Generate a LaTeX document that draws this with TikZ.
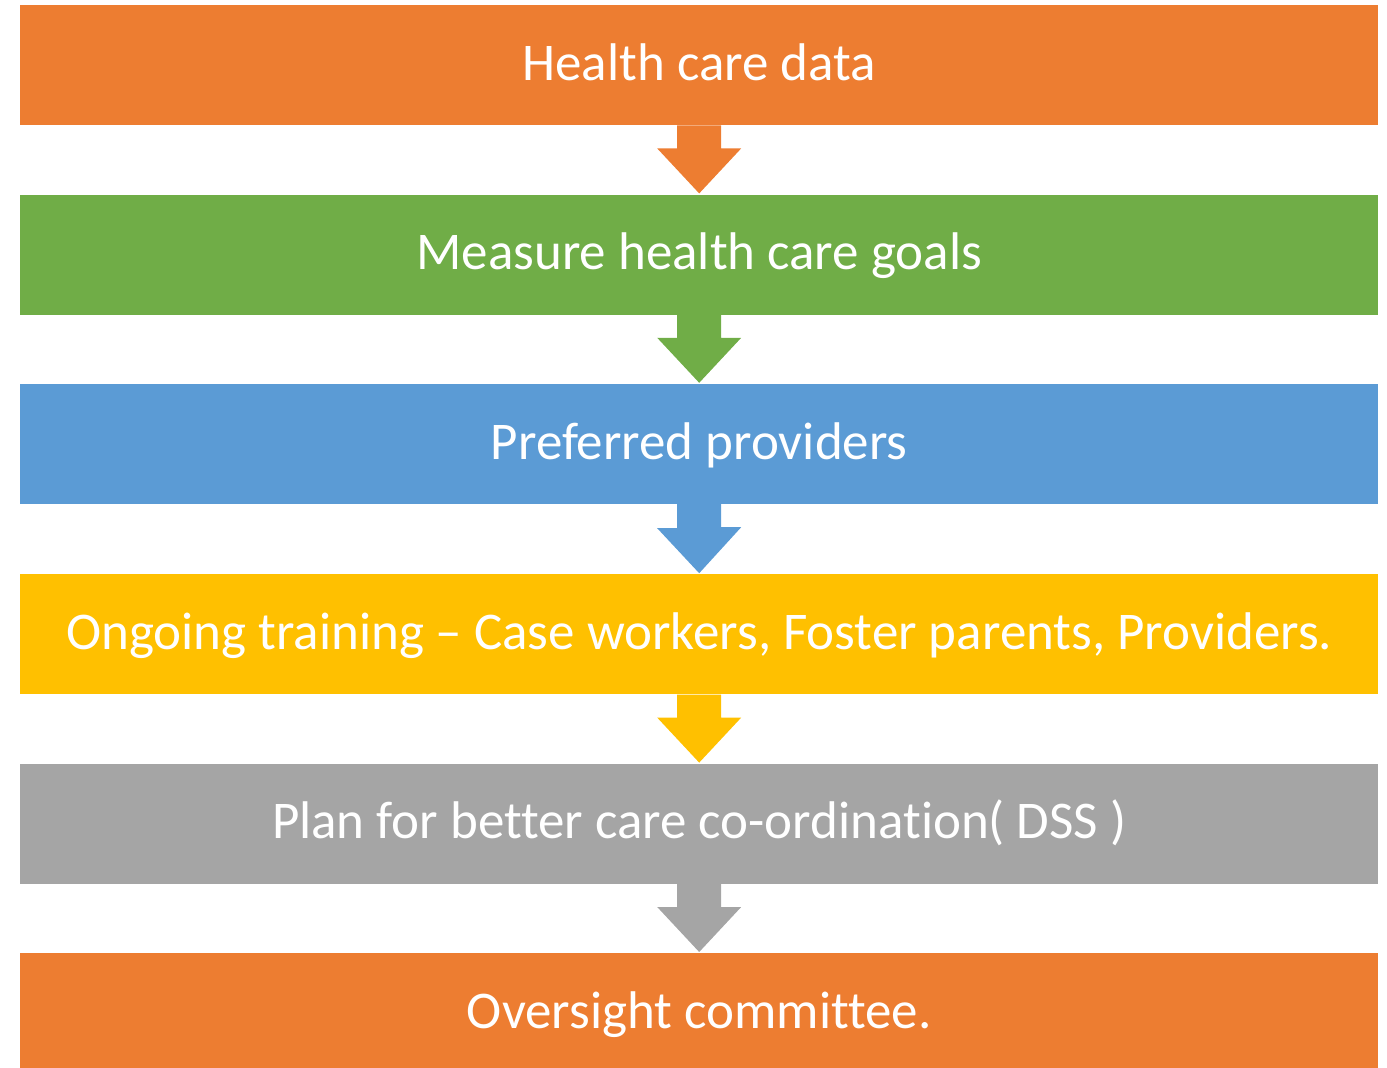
\documentclass[tikz,border=0pt]{standalone}
\usepackage{fontspec}
\setmainfont{Carlito}[Ligatures=NoCommon]
\usepackage{tikz}
\usetikzlibrary{positioning}
\definecolor{boxorange}{HTML}{ED7D31}
\definecolor{boxgreen}{HTML}{70AD47}
\definecolor{boxblue}{HTML}{5B9BD5}
\definecolor{boxyellow}{HTML}{FFC000}
\definecolor{boxgray}{HTML}{A5A5A5}
\tikzset{
stage/.style={fill=#1, minimum width=1358pt, minimum height=120pt, inner sep=0pt,
  text height=37pt, text depth=7pt, text=white, font=\fontsize{53}{60}\selectfont},
}
\begin{document}
\begin{tikzpicture}[x=1pt, y=-1pt]
\useasboundingbox (0,0) rectangle (1387,1068);
\node[stage=boxorange, anchor=north west] (s1) at (20,5) {Health care data};
\node[stage=boxgreen, below=69pt of s1] (s2) {Measure health care goals};
\node[stage=boxblue, below=69pt of s2] (s3) {Preferred providers};
\node[stage=boxyellow, below=70pt of s3] (s4) {Ongoing training -- Case workers, Foster parents, Providers.};
\node[stage=boxgray, below=69pt of s4] (s5) {Plan for better care co-ordination( DSS )};
\node[stage=boxorange, below=69pt of s5] (s6) {Oversight committee.};
% block arrows between the stages
\foreach \a/\b/\c in {s1/s2/boxorange, s2/s3/boxgreen, s3/s4/boxblue, s4/s5/boxyellow, s5/s6/boxgray}
  \fill[\c] ([xshift=-22pt]\a.south) -- ([xshift=22pt]\a.south) -- ++(0,23) -- ++(20,0)
    -- ([yshift=1pt]\b.north) -- ([xshift=-42pt,yshift=46pt]\b.north) -- ++(20,0) -- cycle;
\end{tikzpicture}
\end{document}
